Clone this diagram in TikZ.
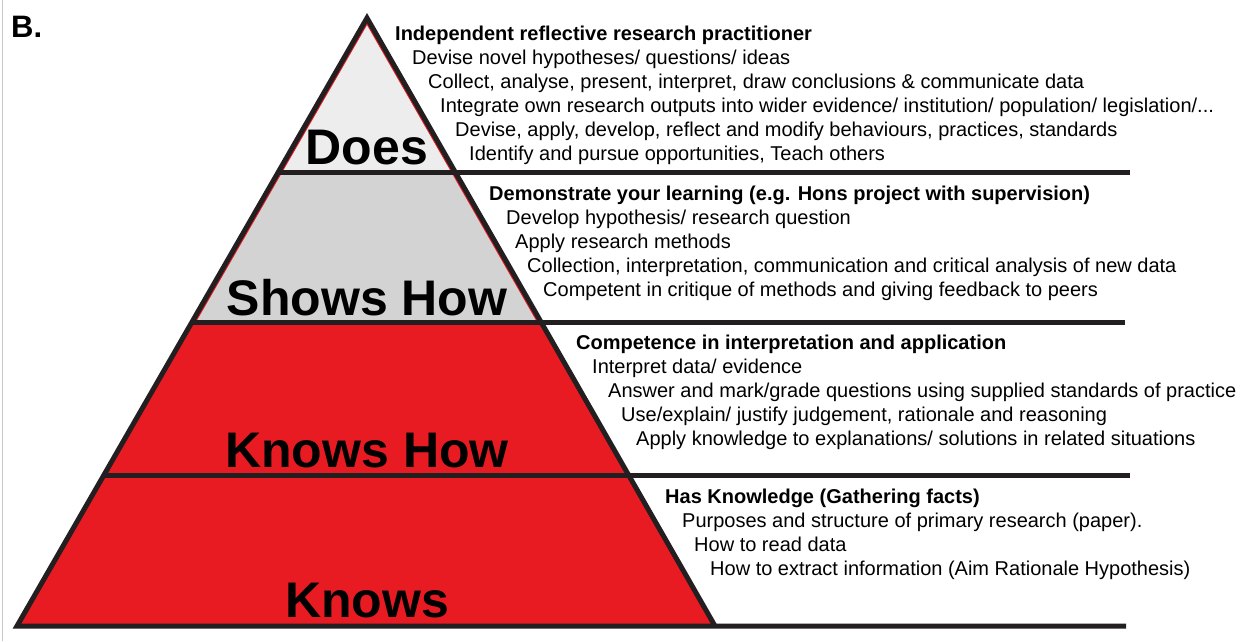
\documentclass[tikz,border=0pt]{standalone}
\usepackage{fontspec}
\setmainfont{Liberation Sans}
\definecolor{pyrred}{RGB}{232,27,35}
\definecolor{doesgray}{RGB}{237,237,237}
\definecolor{showsgray}{RGB}{211,211,211}
\definecolor{inkblack}{RGB}{35,31,32}
\definecolor{framegray}{RGB}{200,200,200}
\begin{document}
\begin{tikzpicture}[x=1pt,y=-1pt,
  item/.style={anchor=base west, inner sep=0pt, font=\fontsize{20}{24}\selectfont},
  head/.style={anchor=base west, inner sep=0pt, font=\fontsize{20}{24}\selectfont\bfseries},
  level/.style={anchor=base, inner sep=0pt, font=\fontsize{50}{50}\selectfont\bfseries},
  rule/.style={line width=5pt, draw=inkblack, line join=miter}]
\useasboundingbox (0,0) rectangle (1249,641);
\fill[white] (0,0) rectangle (1249,641);
\draw[framegray, line width=1pt] (2.5,0) -- (2.5,641);
\coordinate (apex) at (367,18);
\coordinate (bl) at (17,626);
\coordinate (br) at (715,626);
\begin{scope}
  \clip (apex) -- (bl) -- (br) -- cycle;
  \fill[doesgray] (0,0) rectangle (800,172.5);
  \fill[showsgray] (0,172.5) rectangle (800,322.5);
  \fill[pyrred] (0,322.5) rectangle (800,640);
  \draw[pyrred, line width=7pt] (apex) -- (bl) -- (br) -- cycle;
\end{scope}
\draw[rule] (br) -- (apex) -- (bl) -- (1126,626);
\draw[rule] (278.1,172.5) -- (1130,172.5);
\draw[rule] (191.7,322.5) -- (1125,322.5);
\draw[rule] (103.9,475) -- (1130,475);

\node[anchor=base west, inner sep=0pt, font=\fontsize{31}{31}\selectfont\bfseries] (lbl) at (11,37) {B.};

\node[level] (does) at (367,164) {Does};
\node[level] (shows) at (367,315) {Shows How};
\node[level] (knowshow) at (367,467) {Knows How};
\node[level] (knows) at (367,617) {Knows};

\node[head] (d0) at (395,40) {Independent reflective research practitioner};
\node[item] (d1) at (412,64) {Devise novel hypotheses/ questions/ ideas};
\node[item] (d2) at (428,88) {Collect, analyse, present, interpret, draw conclusions \& communicate data};
\node[item] (d3) at (440,112) {Integrate own research outputs into wider evidence/ institution/ population/ legislation/...};
\node[item] (d4) at (455,136) {Devise, apply, develop, reflect and modify behaviours, practices, standards};
\node[item] (d5) at (469,160) {Identify and pursue opportunities, Teach others};

\node[head] (s0) at (489,200) {Demonstrate your learning (e.g. Hons project with supervision)};
\node[item] (s1) at (506,224) {Develop hypothesis/ research question};
\node[item] (s2) at (515,248) {Apply research methods};
\node[item] (s3) at (527,272) {Collection, interpretation, communication and critical analysis of new data};
\node[item] (s4) at (543,296) {Competent in critique of methods and giving feedback to peers};

\node[head] (k0) at (576,349) {Competence in interpretation and application};
\node[item] (k1) at (592,373) {Interpret data/ evidence};
\node[item] (k2) at (608,397) {Answer and mark/grade questions using supplied standards of practice};
\node[item] (k3) at (621,421) {Use/explain/ justify judgement, rationale and reasoning};
\node[item] (k4) at (636,445) {Apply knowledge to explanations/ solutions in related situations};

\node[head] (n0) at (665,503) {Has Knowledge (Gathering facts)};
\node[item] (n1) at (682,527) {Purposes and structure of primary research (paper).};
\node[item] (n2) at (694,551) {How to read data};
\node[item] (n3) at (710,575) {How to extract information (Aim Rationale Hypothesis)};
\end{tikzpicture}
\end{document}
